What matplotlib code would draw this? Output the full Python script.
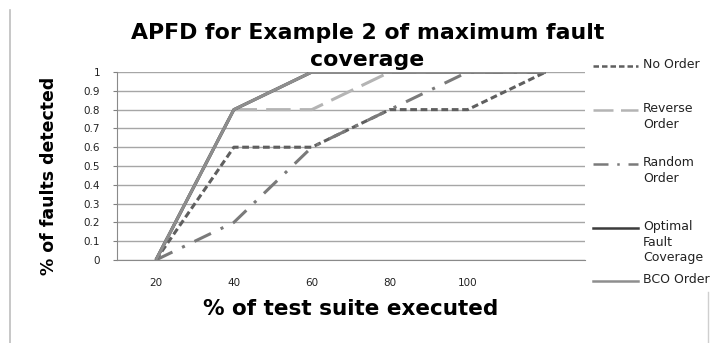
import matplotlib
matplotlib.use('Agg')
from matplotlib import pyplot as plt
from matplotlib.lines import Line2D

# data
categories = ["20", "40", "60", "80", "100", ""]
no_order = [0, 0.6, 0.6, 0.8, 0.8, 1]
reverse_order = [0, 0.8, 0.8, 1, 1, 1]
random_order = [0, 0.2, 0.6, 0.8, 1, 1]
optimal = [0, 0.8, 1, 1, 1, 1]
bco_order = [0, 0.8, 1, 1, 1, 1]
y_ticks = [0, 0.1, 0.2, 0.3, 0.4, 0.5, 0.6, 0.7, 0.8, 0.9, 1]
y_tick_labels = ["0", "0.1", "0.2", "0.3", "0.4", "0.5", "0.6", "0.7", "0.8", "0.9", "1"]

series = [
    ("No Order", no_order, "#5f5f5f", (0, (2.2, 1.2))),
    ("Reverse\nOrder", reverse_order, "#b4b4b4", (0, (8, 3))),
    ("Random\nOrder", random_order, "#7a7a7a", (0, (6, 3.5, 1, 3.5))),
    ("Optimal\nFault\nCoverage", optimal, "#3c3c3c", "-"),
    ("BCO Order", bco_order, "#8e8e8e", "-"),
]

plt.rcParams['font.family'] = ['DejaVu Sans']

fig = plt.figure(figsize=(7.13, 3.43), dpi=100)
fig.patch.set_facecolor('white')
ax = fig.add_axes([0.164, 0.242, 0.656, 0.548])

x = list(range(len(categories)))
for name, vals, color, ls in series:
    ax.plot(x, vals, color=color, linestyle=ls, linewidth=2.2, solid_capstyle='butt')

ax.set_xlim(-0.5, len(categories) - 0.5)
ax.set_ylim(0, 1)
ax.set_xticks(x)
ax.set_xticklabels(categories, fontsize=7.5, color='#222222')
ax.set_yticks(y_ticks)
ax.set_yticklabels(y_tick_labels, fontsize=7.5, color='#222222')
ax.tick_params(axis='x', length=0, pad=13)
ax.tick_params(axis='y', length=3, color='#808080', pad=9)
ax.grid(True, axis='y', color='#a6a6a6', linewidth=1)
ax.set_axisbelow(True)
for s in ['top', 'right']:
    ax.spines[s].set_visible(False)
ax.spines['left'].set_color('#8a8a8a')
ax.spines['bottom'].set_color('#8a8a8a')

ax.set_xlabel("% of test suite executed", fontsize=15.5, fontweight='bold', labelpad=8)
ax.xaxis.set_label_coords(0.5, -0.205)
ax.set_ylabel("% of faults detected", fontsize=12.5, fontweight='bold')
ax.yaxis.set_label_coords(-0.126, 0.45)

fig.text(0.515, 0.905, "APFD for Example 2 of maximum fault", ha='center', va='center',
         fontsize=15.8, fontweight='bold')
fig.text(0.515, 0.825, "coverage", ha='center', va='center', fontsize=15.8, fontweight='bold')

# legend drawn by hand to keep the Excel-style spacing
leg_y = [66, 110, 164, 228, 281]
for (name, vals, color, ls), yy in zip(series, leg_y):
    yf = 1 - yy / 343
    fig.add_artist(Line2D([593 / 713, 638 / 713], [yf, yf], color=color, linestyle=ls,
                          linewidth=1.8, transform=fig.transFigure))
    fig.text(643 / 713, yf + 0.023, name, ha='left', va='top', fontsize=9,
             color='#222222', linespacing=1.25)

# sheet border
fig.add_artist(Line2D([10 / 713, 10 / 713], [0, 0.97], color='#bdbdbd', linewidth=1.2,
                      transform=fig.transFigure))
fig.add_artist(Line2D([708 / 713, 708 / 713], [0, 0.15], color='#cfcfcf', linewidth=1,
                      transform=fig.transFigure))

fig.savefig("out.png", dpi=100, facecolor='white')
